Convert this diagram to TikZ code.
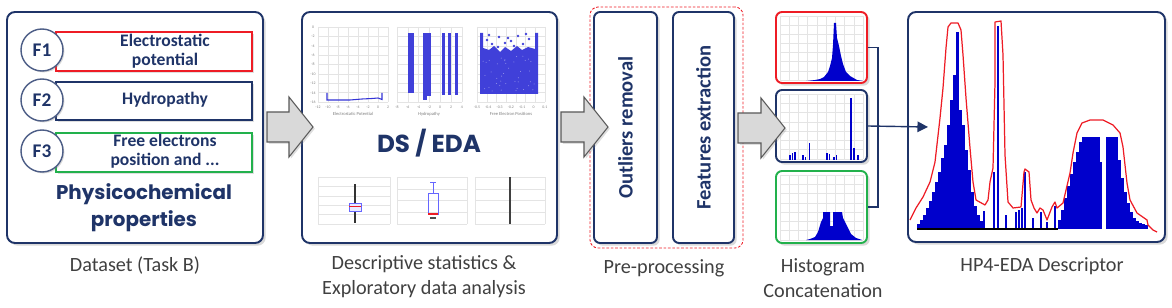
\documentclass[tikz,border=0pt]{standalone}
\usepackage{fontspec}
\setmainfont{Carlito}
\newfontfamily\geofont{Poppins}
\usetikzlibrary{arrows.meta, positioning, calc, fit, shadows}

\definecolor{navy}{HTML}{1F3468}
\definecolor{hred}{HTML}{EE1C25}
\definecolor{hgreen}{HTML}{22B14C}
\definecolor{hblue}{HTML}{0000CC}
\definecolor{capgray}{HTML}{404040}
\definecolor{arrfill}{HTML}{D9D9D9}
\definecolor{gridgray}{HTML}{E4E4E4}

\tikzset{
  panel/.style={draw=navy, line width=1.1pt, rounded corners=1.6mm, fill=white,
    inner sep=0pt, drop shadow={opacity=0.3, shadow xshift=1.5pt, shadow yshift=-1.5pt}},
  stage/.style={panel, rounded corners=1.2mm},
  histbox/.style={panel, draw=#1, rounded corners=1.2mm},
  tabbox/.style={draw=#1, line width=0.9pt, fill=white, inner sep=0pt,
    drop shadow={opacity=0.25, shadow xshift=1pt, shadow yshift=-1pt}},
  fcircle/.style={circle, draw=navy!80, line width=0.8pt, fill=white, inner sep=0pt,
    minimum size=8.4mm, text=navy, font=\bfseries\fontsize{11}{11}\selectfont,
    drop shadow={opacity=0.3, shadow xshift=0.8pt, shadow yshift=-0.8pt}},
  tabtext/.style={text=navy, font=\bfseries\fontsize{10}{11}\selectfont, align=center},
  caption/.style={text=capgray, font=\fontsize{11.5}{14.2}\selectfont, align=center},
  blockarrow/.style={draw=gray!70!black, fill=arrfill, line width=0.6pt,
    drop shadow={opacity=0.25, shadow xshift=1pt, shadow yshift=-1pt}},
  gridline/.style={gridgray, line width=0.25pt},
  ticklabel/.style={text=gray, font=\fontsize{2.2}{2.4}\selectfont, inner sep=0pt},
  bar/.style={fill=hblue},
}

% block arrow: start x, tip x, middle y
\newcommand{\blockarrow}[3]{%
  \draw[blockarrow] (#1,{#3-15}) -- ({#2-24},{#3-15}) -- ({#2-24},{#3-30}) -- (#2,#3)
    -- ({#2-24},{#3+30}) -- ({#2-24},{#3+15}) -- (#1,{#3+15}) -- cycle;}
% light grid: x0, y0, x1, y1, columns, rows
\newcommand{\minigrid}[6]{%
  \foreach \i in {0,...,#5}
    \draw[gridline] ({#1+(#3-#1)*\i/#5},#2) -- ({#1+(#3-#1)*\i/#5},#4);
  \foreach \j in {0,...,#6}
    \draw[gridline] (#1,{#2+(#4-#2)*\j/#6}) -- (#3,{#2+(#4-#2)*\j/#6});}

\begin{document}
\begin{tikzpicture}[x=0.2mm, y=-0.2mm]
  \useasboundingbox (0,0) rectangle (1172,308);

  % Dataset panel
  \node[panel, fit={(7,12) (263,243)}] (dataset) {};
  \node[tabbox=hred, fit={(56,32) (252,71)}] (tab1) {};
  \node[tabbox=navy, fit={(56,82) (252,120)}] (tab2) {};
  \node[tabbox=hgreen, fit={(56,133) (252,172)}] (tab3) {};
  \node[fcircle] (f1) at (42,50) {F1};
  \node[fcircle] (f2) at (42,100) {F2};
  \node[fcircle] (f3) at (42,151) {F3};
  \node[tabtext] (t1) at (165,51) {Electrostatic\\potential};
  \node[tabtext] (t2) at (165,100) {Hydropathy};
  \node[tabtext] (t3) at (165,151) {Free electrons\\position and ...};
  \node[text=navy, align=center, font=\geofont\bfseries\fontsize{11.3}{15.5}\selectfont]
    (props) at (144,208) {Physicochemical\\properties};
  \node[caption] (cap1) at (135,266) {Dataset (Task B)};

  % DS / EDA panel
  \node[panel, fit={(302,12) (557,243)}] (eda) {};
  \minigrid{318}{27}{388}{102}{7}{8}
  \minigrid{397}{27}{462}{102}{6}{8}
  \minigrid{477}{27}{545}{102}{7}{8}
  \draw[hblue!80, line width=0.6pt] (327,93) -- (327,100) -- (350,100) -- (362,99)
    -- (372,98.5) -- (378,98) -- (382,99.5) -- (382,93);
  \fill[hblue!75] (408,33) rectangle (414,93);
  \fill[hblue!75] (423,33) rectangle (427,100);
  \fill[hblue!75] (427,33) rectangle (431,96);
  \fill[hblue!75] (442,33) rectangle (445,95);
  \fill[hblue!75] (448,33) rectangle (451,95);
  \fill[hblue!75] (455,33) rectangle (458,95);
  \fill[hblue!75] (480,94) -- (480,33) -- (483,33) -- (483,48) -- (489,50) -- (494,46)
    -- (500,52) -- (505,47) -- (511,51) -- (517,46) -- (522,50) -- (528,47) -- (535,49)
    -- (535,33) -- (538,33) -- (538,94) -- cycle;
  \pgfmathsetseed{7}
  \foreach \k in {1,...,40} {
    \pgfmathsetmacro\rx{483+52*rnd}
    \pgfmathsetmacro\ry{54+38*rnd}
    \fill[white!60!hblue] (\rx,\ry) circle (0.5);
  }
  \foreach \px/\py in {487/40, 492/44, 499/37, 505/43, 511/41, 518/36, 523/44, 529/39,
                       498/47, 514/46, 489/35, 526/34, 508/38}
    \fill[hblue!75] (\px,\py) circle (1.3);
  \foreach \v [count=\k] in {-12,-10,-8,-6,-4,-2,0,2}
    \node[ticklabel] (ta\k) at ({318+(\k-1)*10},107) {\v};
  \foreach \v [count=\k] in {-8,-6,-4,-2,0,2,4}
    \node[ticklabel] (tb\k) at ({397+(\k-1)*10.8},107) {\v};
  \foreach \v [count=\k] in {-0.5,-0.4,-0.3,-0.2,-0.1,0,0.1}
    \node[ticklabel] (tc\k) at ({477+(\k-1)*11.3},107) {\v};
  \foreach \v [count=\k] in {0,-2,-4,-6,-8,-10,-12,-14,-16}
    \node[ticklabel] (td\k) at (313,{27+(\k-1)*9.4}) {\v};
  \node[ticklabel, font=\fontsize{2.6}{3}\selectfont] (ax1) at (353,114) {Electrostatic Potential};
  \node[ticklabel, font=\fontsize{2.6}{3}\selectfont] (ax2) at (429,114) {Hydropathy};
  \node[ticklabel, font=\fontsize{2.6}{3}\selectfont] (ax3) at (511,114) {Free Electron Positions};
  \node[text=navy, font=\geofont\bfseries\fontsize{14}{14}\selectfont] (edatitle) at (429,143) {DS / EDA};
  \minigrid{318}{177}{390}{224}{1}{5}
  \minigrid{397}{177}{467}{224}{1}{4}
  \minigrid{475}{177}{545}{224}{1}{4}
  \draw[black!80, line width=1.3pt] (355,184) -- (355,203);
  \draw[black!80, line width=1.3pt] (355,212) -- (355,223);
  \draw[blue!60, fill=blue!8, line width=0.4pt] (349,203) rectangle (361,211);
  \draw[hred, line width=0.5pt] (349,206) -- (361,206);
  \draw[blue!60, line width=0.4pt] (433,182) -- (433,193) (430,182) -- (436,182);
  \draw[blue!60, line width=0.5pt] (428,193) rectangle (438,214);
  \draw[hred, line width=0.8pt] (428,214) -- (438,214);
  \draw[black!70, line width=0.6pt] (430,218) -- (436,218);
  \draw[black!75, line width=1.4pt] (510,177) -- (510,224);
  \node[caption] (cap2) at (424,277) {Descriptive statistics \&\\Exploratory data analysis};

  % Pre-processing stage
  \node[draw=hred, dash pattern=on 1.5pt off 1pt, line width=0.5pt, rounded corners=1.6mm,
    inner sep=0pt, fit={(590,7) (743,248)}] (prep) {};
  \node[stage, fit={(594,12) (657,243)}] (outl) {};
  \node[stage, fit={(673,12) (734,243)}] (feat) {};
  \node[tabtext, rotate=90, font=\bfseries\fontsize{11.7}{12}\selectfont] (outltext) at (outl.center) {Outliers removal};
  \node[tabtext, rotate=90, font=\bfseries\fontsize{11.7}{12}\selectfont] (feattext) at (feat.center) {Features extraction};
  \node[caption] (cap3) at (664,268) {Pre-processing};

  % Histograms
  \node[histbox=hred, fit={(776,12) (867,83)}] (h1) {};
  \node[histbox=navy, fit={(776,90) (867,162)}] (h2) {};
  \node[histbox=hgreen, fit={(776,171) (867,243)}] (h3) {};
  \minigrid{780}{16}{863}{80}{9}{7}
  \minigrid{780}{94}{863}{159}{9}{7}
  \minigrid{780}{175}{863}{240}{9}{7}
  \fill[hblue] (806,81) -- (815,80) -- (820,79) -- (824,77) -- (828,72) -- (830,66)
    -- (832,58) -- (833,45) -- (834,23) -- (836,23) -- (837,38) -- (839,46) -- (841,56)
    -- (843,64) -- (846,72) -- (850,76) -- (857,80) -- (863,81) -- cycle;
  \foreach \x/\t in {789/155, 791.5/153, 794/152, 802/155, 804.5/157, 808.5/143,
                     826/153, 828.5/154, 833/157, 835.5/155, 850/98, 853/148, 857/155}
    \fill[hblue] (\x,160) rectangle ({\x+1.6},\t);
  \fill[hblue] (806,240) -- (810,239) -- (815,237) -- (818,232) -- (821,222) -- (823,218)
    -- (823,212) -- (830,212) -- (830,226) -- (833,226) -- (833,212) -- (842,212)
    -- (843,218) -- (847,226) -- (851,234) -- (856,238) -- (862,240) -- cycle;

  % Concatenation connectors
  \coordinate (join) at (878,127);
  \draw[navy, line width=0.6pt] (h1.east) -- (h1.east -| join) -- (h3.east -| join) -- (h3.east);

  % HP4-EDA descriptor
  \node[panel, fit={(908,12) (1165,242)}] (desc) {};
  \foreach \x/\t in {917/224, 920/220, 923/215, 926/208, 929/201, 932/192, 935/182,
                     938/172, 941/158, 944/145, 947/125, 950/100, 953/75, 956/32,
                     959/110, 962/125, 965/150, 968/170, 971/192, 974/206, 977/215, 980/221}
    \fill[bar] (\x,229) rectangle ({\x+3},\t);
  \foreach \x/\t in {983/211, 993/172, 997/26, 1005/215, 1015/212, 1018/210, 1021/208,
                     1024/172, 1032/218, 1040/212, 1046/222, 1054/206}
    \fill[bar] (\x,229) rectangle ({\x+2},\t);
  \foreach \x/\t in {1058/220, 1061/210, 1064/198, 1067/186, 1070/174, 1073/162, 1076/152,
                     1079/142, 1082/137, 1085/137, 1088/137, 1091/137, 1094/137, 1097/137,
                     1106/137, 1109/137, 1112/137, 1115/137, 1118/160, 1121/178, 1124/192,
                     1127/203, 1130/212, 1133/218, 1136/221, 1139/223, 1142/224, 1145/225}
    \fill[bar] (\x,229) rectangle ({\x+3},\t);
  \fill[bar] (1100,229) rectangle (1102,162);
  \draw[black, line width=0.8pt] (917,229) -- (1058,229);
  \draw[hred, line width=0.7pt, line join=round] plot coordinates {
    (910,220) (916,208) (923,197) (930,182) (935,162) (940,118) (943,88) (946,48)
    (948,27) (951,23) (958,23) (961,30) (963,55) (966,98) (970,148) (973,182)
    (976,200) (985,205) (988,200) (990,182) (993,168) (995,82) (995,22) (1001,21)
    (1003,55) (1005,155) (1008,202) (1013,208) (1021,207) (1024,172) (1025,169)
    (1029,172) (1031,200) (1034,208) (1037,213) (1040,208) (1043,210) (1047,220)
    (1052,207) (1055,202) (1057,208) (1063,203) (1070,173) (1073,153) (1077,133)
    (1082,123) (1090,120) (1103,120) (1113,125) (1120,133) (1123,147) (1127,183)
    (1130,200) (1137,213) (1147,220) (1148,225) (1153,230) (1157,232)};
  \node[caption] (cap5) at (1042,266) {HP4-EDA Descriptor};
  \node[caption] (cap4) at (823,278) {Histogram\\Concatenation};

  % Flow arrows
  \blockarrow{267}{313}{127}
  \blockarrow{561}{608}{127}
  \blockarrow{738}{785}{128}
  \coordinate (tip) at (928,127);
  \draw[navy, line width=0.8pt, -{Triangle[length=6pt, width=6pt]}] (h2.east) -- (tip);
\end{tikzpicture}
\end{document}
